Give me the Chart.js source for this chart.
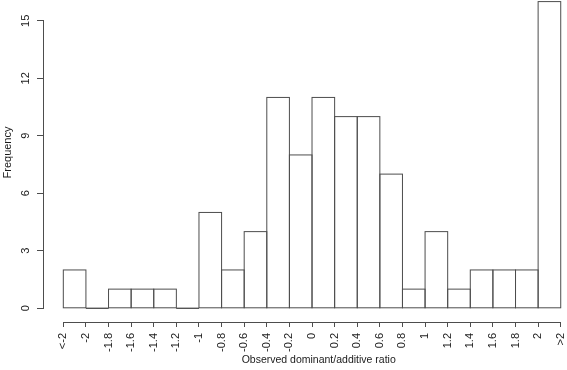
<!DOCTYPE html>
<html>
<head>
<meta charset="utf-8">
<script src="https://cdn.jsdelivr.net/npm/chart.js@4.4.0/dist/chart.umd.min.js"></script>
<style>
  html, body { margin: 0; padding: 0; background: #ffffff; }
  #wrap { width: 567px; height: 370px; }
</style>
</head>
<body>
<div id="wrap"><canvas id="c" width="567" height="370"></canvas></div>
<script>
// ---- data ----
const binEdgeLabels = ["<-2", "-2", "-1.8", "-1.6", "-1.4", "-1.2", "-1", "-0.8", "-0.6", "-0.4", "-0.2",
                       "0", "0.2", "0.4", "0.6", "0.8", "1", "1.2", "1.4", "1.6", "1.8", "2", ">2"];
const frequencies = [2, 0, 1, 1, 1, 0, 5, 2, 4, 11, 8, 11, 10, 10, 7, 1, 4, 1, 2, 2, 2, 16];
const yTickValues = [0, 3, 6, 9, 12, 15];
const xAxisTitle = "Observed dominant/additive ratio";
const yAxisTitle = "Frequency";

// ---- styling / layout ----
const LINE = "#4d4d4d";
const TEXT = "#1a1a1a";
// plot region (R-style, partly outside the cropped picture)
const PLOT = { left: 44, right: 593.4, top: -17, bottom: 322 };
Chart.defaults.font.family = "'Liberation Sans', Arial, Helvetica, sans-serif";
Chart.defaults.font.size = 11;
Chart.defaults.color = TEXT;

// histogram bins centered between edges (edge index i .. i+1)
const points = frequencies.map((v, i) => ({ x: i + 0.5, y: v }));

// force the plot region like R's par(plt), then let the scales reconfigure
const plotRegion = {
  id: "plotRegion",
  afterLayout(chart) {
    const xs = chart.scales.x, ys = chart.scales.y;
    const H = chart.height;
    ys.left = 0; ys.right = PLOT.left; ys.width = PLOT.left;
    ys.top = PLOT.top; ys.bottom = PLOT.bottom; ys.height = PLOT.bottom - PLOT.top;
    xs.left = PLOT.left; xs.right = PLOT.right; xs.width = PLOT.right - PLOT.left;
    xs.top = PLOT.bottom; xs.bottom = H; xs.height = H - PLOT.bottom;
    ys.configure(); xs.configure();
    const ca = chart.chartArea;
    ca.left = PLOT.left; ca.right = PLOT.right; ca.top = PLOT.top; ca.bottom = PLOT.bottom;
    ca.width = PLOT.right - PLOT.left; ca.height = PLOT.bottom - PLOT.top;
  }
};

// R-style axes and bar outlines drawn from the library's scales/elements
const rStyle = {
  id: "rStyle",
  afterDatasetsDraw(chart) {
    const ctx = chart.ctx;
    const xs = chart.scales.x, ys = chart.scales.y;
    const ca = chart.chartArea;
    ctx.save();
    ctx.strokeStyle = LINE;
    ctx.lineWidth = 1;
    const meta = chart.getDatasetMeta(0);
    meta.data.forEach(el => {
      const p = el.getProps(["x", "y", "base", "width"], true);
      const l = p.x - p.width / 2;
      ctx.strokeRect(l, Math.min(p.y, p.base), p.width, Math.abs(p.base - p.y));
    });
    const ax = Math.round(ca.left) - 0.5;
    ctx.beginPath();
    ctx.moveTo(ax, ys.getPixelForValue(yTickValues[0]));
    ctx.lineTo(ax, ys.getPixelForValue(yTickValues[yTickValues.length - 1]));
    ctx.stroke();
    const ay = Math.round(ca.bottom) + 0.5;
    ctx.beginPath();
    ctx.moveTo(xs.getPixelForValue(0), ay);
    ctx.lineTo(xs.getPixelForValue(binEdgeLabels.length - 1), ay);
    ctx.stroke();
    ctx.restore();
  }
};

new Chart(document.getElementById("c"), {
  type: "bar",
  data: {
    datasets: [{
      data: points,
      backgroundColor: "#ffffff",
      borderWidth: 0,
      barPercentage: 1,
      categoryPercentage: 1
    }]
  },
  options: {
    responsive: false,
    animation: false,
    devicePixelRatio: 1,
    plugins: { legend: { display: false }, tooltip: { enabled: false } },
    scales: {
      x: {
        type: "linear",
        min: -0.854,
        max: 23.445,
        offset: false,
        afterBuildTicks: s => { s.ticks = binEdgeLabels.map((_, i) => ({ value: i })); },
        ticks: {
          autoSkip: false,
          minRotation: 90,
          maxRotation: 90,
          padding: 6,
          color: TEXT,
          callback: v => binEdgeLabels[v]
        },
        grid: { offset: false, drawOnChartArea: false, drawTicks: true, tickLength: 5, color: LINE, lineWidth: 1 },
        border: { display: false },
        title: {
          display: true,
          text: xAxisTitle,
          color: TEXT,
          font: { size: 10.5 },
          padding: { top: 0, bottom: 4 }
        }
      },
      y: {
        type: "linear",
        min: -0.715,
        max: 16.97,
        afterBuildTicks: s => { s.ticks = yTickValues.map(v => ({ value: v })); },
        ticks: {
          minRotation: 90,
          maxRotation: 90,
          crossAlign: "center",
          padding: 5,
          color: TEXT
        },
        grid: { offset: false, drawOnChartArea: false, drawTicks: true, tickLength: 7, color: LINE, lineWidth: 1 },
        border: { display: false },
        title: {
          display: true,
          text: yAxisTitle,
          color: TEXT,
          padding: { top: 1, bottom: 0 }
        }
      }
    }
  },
  plugins: [plotRegion, rStyle]
});
</script>
</body>
</html>
